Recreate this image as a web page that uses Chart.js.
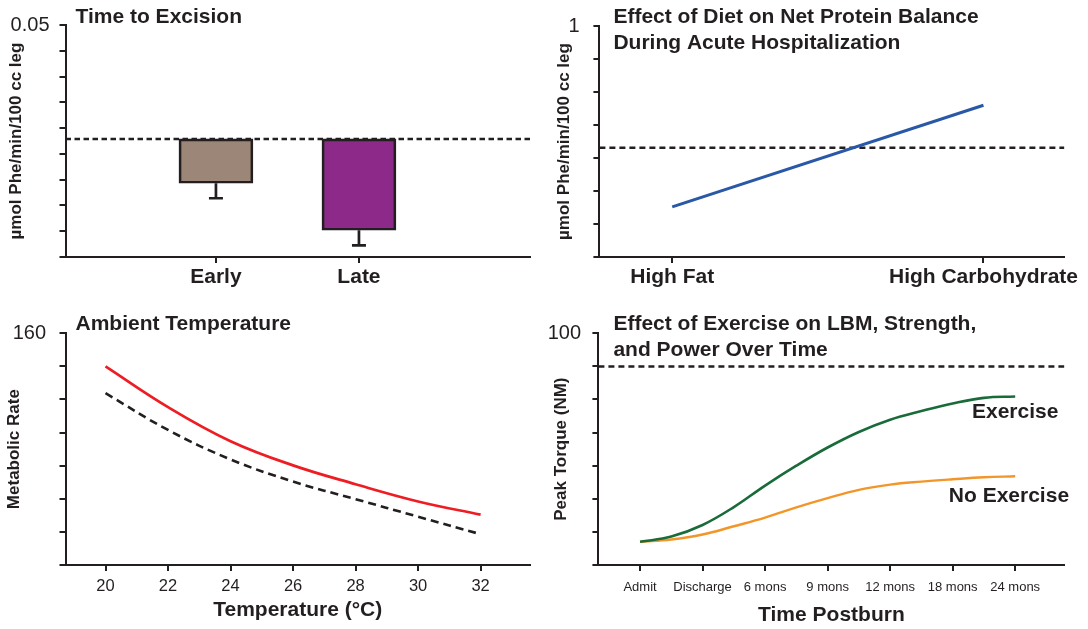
<!DOCTYPE html>
<html>
<head>
<meta charset="utf-8">
<title>Burn metabolism panels</title>
<script src="https://cdn.jsdelivr.net/npm/chart.js@4.4.1/dist/chart.umd.min.js"></script>
<style>
  html, body { margin: 0; padding: 0; background: #fff; }
  body { width: 1088px; height: 629px; position: relative; overflow: hidden; }
  .panel { position: absolute; }
  #p1 { left: 0; top: 0; width: 544px; height: 300px; }
  #p2 { left: 544px; top: 0; width: 544px; height: 300px; }
  #p3 { left: 0; top: 300px; width: 544px; height: 329px; }
  #p4 { left: 544px; top: 300px; width: 544px; height: 329px; }
</style>
</head>
<body>
<div class="panel" id="p1"><canvas id="c1"></canvas></div>
<div class="panel" id="p2"><canvas id="c2"></canvas></div>
<div class="panel" id="p3"><canvas id="c3"></canvas></div>
<div class="panel" id="p4"><canvas id="c4"></canvas></div>
<script>
const INK = '#231f20';
const FONT = "'Liberation Sans', Arial, Helvetica, sans-serif";

// Time to Excision
const excisionLabels = ['Early', 'Late'];
const excisionX = [1, 2];
const excisionBase = 0.0058;
const excisionMean = [-0.0114, -0.0296];
const excisionErr = [-0.0172, -0.0355];
const excisionColors = ['#9c8678', '#8d2a89'];
const excisionTop = '0.05';

// Effect of diet
const dietLabels = ['High Fat', 'High Carbohydrate'];
const dietX = [1, 2];
const dietBalance = [0.452, 0.760];
const dietBaseline = 0.631;
const dietTop = '1';

// Ambient temperature
const tempC = [20, 22, 24, 26, 28, 30, 32];
const rateBurn = [150.0, 137.7, 127.4, 120.1, 114.4, 109.2, 105.2];
const rateNormal = [141.9, 130.8, 121.9, 115.2, 109.9, 104.6, 99.3];
const rateTop = '160';

// Exercise over time (read every half step between visits)
const timeLabels = ['Admit', 'Discharge', '6 mons', '9 mons', '12 mons', '18 mons', '24 mons'];
const timeX = [0, 1, 2, 3, 4, 5, 6];
const curveX = [0, 0.5, 1, 1.5, 2, 2.5, 3, 3.5, 4, 4.5, 5, 5.5, 6];
const torqueExercise = [37.0, 38.6, 42.1, 47.5, 54.0, 60.0, 65.5, 70.2, 73.9, 76.5, 78.8, 80.5, 80.9];
const torqueNoExercise = [37.0, 37.7, 39.2, 41.7, 44.3, 47.4, 50.2, 52.7, 54.3, 55.2, 55.9, 56.5, 56.8];
const torqueNormal = 90;
const torqueTop = '100';
const curveNames = ['Exercise', 'No Exercise'];
const curveNameX = [6, 5.9];
const curveNameY = [76.2, 50.9];

Chart.defaults.font.family = FONT;
Chart.defaults.color = INK;
Chart.defaults.animation = false;

function axisBase(extra) {
  return Object.assign({
    border: { display: true, color: INK, width: 2 },
    grid: {
      display: true, drawOnChartArea: false, drawTicks: true, offset: false,
      tickLength: 6, color: INK, tickColor: INK, lineWidth: 2, tickWidth: 2
    }
  }, extra);
}

function yAxis(min, max, step, topLabel, title, titlePad, labelPad, width) {
  return axisBase({
    type: 'linear', position: 'left', min, max,
    afterBuildTicks: s => {
      const n = Math.round((max - min) / step);
      s.ticks = Array.from({ length: n + 1 }, (_, i) => ({ value: min + i * step }));
    },
    ticks: {
      autoSkip: false, color: INK, padding: labelPad, font: { size: 20 },
      callback: (v, i, t) => (i === t.length - 1 ? topLabel : '')
    },
    title: {
      display: true, text: title, color: INK,
      font: { size: 17, weight: 'bold' }, padding: { top: titlePad, bottom: 0 }
    },
    afterFit: s => { s.width = width; }
  });
}

function xAxis(min, max, values, labels, font, labelPad, height, title) {
  return axisBase({
    type: 'linear', position: 'bottom', min, max, offset: false,
    afterBuildTicks: s => { s.ticks = values.map(v => ({ value: v })); },
    ticks: {
      autoSkip: false, maxRotation: 0, color: INK, padding: labelPad, font,
      callback: (v, i) => labels[i]
    },
    title: title || { display: false },
    afterFit: s => { s.height = height; }
  });
}

const panelTitle = {
  id: 'panelTitle',
  afterDraw(chart, args, opts) {
    const { ctx, chartArea } = chart;
    ctx.save();
    ctx.font = 'bold 21px ' + FONT;
    ctx.fillStyle = INK;
    ctx.textAlign = 'left';
    ctx.textBaseline = 'middle';
    opts.lines.forEach((line, i) => ctx.fillText(line, chartArea.left + opts.dx, opts.y + i * 26));
    ctx.restore();
  }
};

const errorBars = {
  id: 'errorBars',
  afterDatasetsDraw(chart) {
    const meta = chart.getDatasetMeta(0);
    const y = chart.scales.y;
    const ctx = chart.ctx;
    ctx.save();
    ctx.strokeStyle = INK;
    ctx.lineWidth = 2.7;
    meta.data.forEach((bar, i) => {
      const y0 = y.getPixelForValue(excisionMean[i]);
      const y1 = y.getPixelForValue(excisionErr[i]);
      ctx.beginPath();
      ctx.moveTo(bar.x, y0);
      ctx.lineTo(bar.x, y1);
      ctx.moveTo(bar.x - 7, y1);
      ctx.lineTo(bar.x + 7, y1);
      ctx.stroke();
    });
    ctx.restore();
  }
};

const curveNotes = {
  id: 'curveNotes',
  afterDatasetsDraw(chart) {
    const { ctx, scales: { x, y } } = chart;
    ctx.save();
    ctx.font = 'bold 21px ' + FONT;
    ctx.fillStyle = INK;
    ctx.textAlign = 'center';
    ctx.textBaseline = 'middle';
    curveNames.forEach((name, i) => {
      ctx.fillText(name, x.getPixelForValue(curveNameX[i]), y.getPixelForValue(curveNameY[i]));
    });
    ctx.restore();
  }
};

const common = {
  responsive: true,
  maintainAspectRatio: false,
  animation: false,
  events: []
};

// Panel 1: Time to Excision
const x1 = [-0.052, 3.196];
new Chart(document.getElementById('c1'), {
  type: 'bar',
  data: {
    datasets: [
      {
        type: 'bar',
        data: excisionX.map((x, i) => ({ x, y: [excisionBase, excisionMean[i]] })),
        backgroundColor: excisionColors,
        borderColor: INK,
        borderWidth: 2.7,
        borderSkipped: false,
        barThickness: 74
      },
      {
        type: 'line',
        data: x1.map(x => ({ x, y: excisionBase })),
        borderColor: INK, borderWidth: 2.5, borderDash: [5.5, 3.5], pointRadius: 0
      }
    ]
  },
  options: Object.assign({}, common, {
    layout: { padding: { left: 0, top: 25, right: 14, bottom: 0 } },
    scales: {
      x: xAxis(x1[0], x1[1], excisionX, excisionLabels, { size: 21, weight: 'bold' }, 1.4, 43),
      y: yAxis(-0.04, 0.05, 0.01, excisionTop, 'µmol Phe/min/100 cc leg', 6, 10, 65.5)
    },
    plugins: {
      legend: { display: false }, tooltip: { enabled: false },
      panelTitle: { lines: ['Time to Excision'], dx: 10, y: 17 }
    }
  }),
  plugins: [panelTitle, errorBars]
});

// Panel 2: Effect of Diet
const x2 = [0.766, 2.26];
new Chart(document.getElementById('c2'), {
  type: 'line',
  data: {
    datasets: [
      {
        data: dietX.map((x, i) => ({ x, y: dietBalance[i] })),
        borderColor: '#2958a6', borderWidth: 3, pointRadius: 0
      },
      {
        data: x2.map(x => ({ x, y: dietBaseline })),
        borderColor: INK, borderWidth: 2.5, borderDash: [6, 4], pointRadius: 0
      }
    ]
  },
  options: Object.assign({}, common, {
    layout: { padding: { left: 0, top: 26, right: 23.6, bottom: 0 } },
    scales: {
      x: xAxis(x2[0], x2[1], dietX, dietLabels, { size: 21, weight: 'bold' }, 1.4, 43),
      y: yAxis(0.3, 1.0, 0.1, dietTop, 'µmol Phe/min/100 cc leg', 10.6, 13.7, 55.4)
    },
    plugins: {
      legend: { display: false }, tooltip: { enabled: false },
      panelTitle: { lines: ['Effect of Diet on Net Protein Balance', 'During Acute Hospitalization'], dx: 14, y: 17 }
    }
  }),
  plugins: [panelTitle]
});

// Panel 3: Ambient Temperature
const x3 = [18.72, 33.58];
new Chart(document.getElementById('c3'), {
  type: 'line',
  data: {
    datasets: [
      {
        data: tempC.map((x, i) => ({ x, y: rateBurn[i] })),
        borderColor: '#ee1d23', borderWidth: 2.7, pointRadius: 0, tension: 0.4
      },
      {
        data: tempC.map((x, i) => ({ x, y: rateNormal[i] })),
        borderColor: INK, borderWidth: 2.6, borderDash: [8, 5], pointRadius: 0, tension: 0.4
      }
    ]
  },
  options: Object.assign({}, common, {
    layout: { padding: { left: 0, top: 33.3, right: 14, bottom: 0 } },
    scales: {
      x: xAxis(x3[0], x3[1], tempC, tempC.map(String), { size: 16.5 }, 5.8, 64, {
        display: true, text: 'Temperature (°C)', color: INK,
        font: { size: 21, weight: 'bold' }, padding: { top: 0, bottom: 6.4 }
      }),
      y: yAxis(90, 160, 10, rateTop, 'Metabolic Rate', 4.4, 13.5, 65.5)
    },
    plugins: {
      legend: { display: false }, tooltip: { enabled: false },
      panelTitle: { lines: ['Ambient Temperature'], dx: 10, y: 24 }
    }
  }),
  plugins: [panelTitle]
});

// Panel 4: Exercise over time
const x4 = [-0.666, 6.787];
new Chart(document.getElementById('c4'), {
  type: 'line',
  data: {
    datasets: [
      {
        data: curveX.map((x, i) => ({ x, y: torqueExercise[i] })),
        borderColor: '#1a6b3a', borderWidth: 2.6, pointRadius: 0, tension: 0.4
      },
      {
        data: curveX.map((x, i) => ({ x, y: torqueNoExercise[i] })),
        borderColor: '#f3962a', borderWidth: 2.4, pointRadius: 0, tension: 0.4
      },
      {
        data: x4.map(x => ({ x, y: torqueNormal })),
        borderColor: INK, borderWidth: 2.5, borderDash: [6, 4], pointRadius: 0
      }
    ]
  },
  options: Object.assign({}, common, {
    layout: { padding: { left: 0, top: 33.3, right: 23.6, bottom: 0 } },
    scales: {
      x: xAxis(x4[0], x4[1], timeX, timeLabels, { size: 13 }, 8.5, 64, {
        display: true, text: 'Time Postburn', color: INK,
        font: { size: 21, weight: 'bold' }, padding: { top: 0, bottom: 1.4 }
      }),
      y: yAxis(30, 100, 10, torqueTop, 'Peak Torque (NM)', 7, 11.4, 54.4)
    },
    plugins: {
      legend: { display: false }, tooltip: { enabled: false },
      panelTitle: { lines: ['Effect of Exercise on LBM, Strength,', 'and Power Over Time'], dx: 15, y: 24 }
    }
  }),
  plugins: [panelTitle, curveNotes]
});
</script>
</body>
</html>
